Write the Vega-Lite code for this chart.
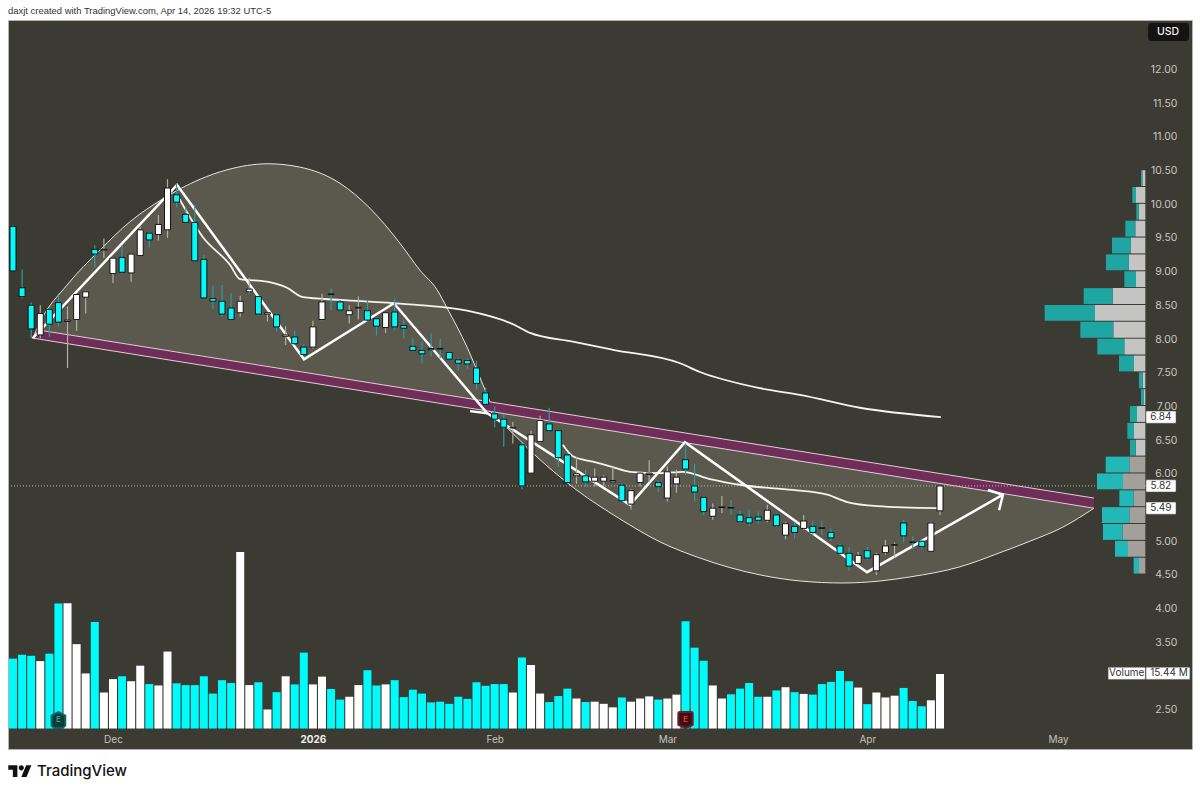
{
  "$schema": "https://vega.github.io/schema/vega-lite/v6.json",
  "description": "Daily candlesticks with volume, volume profile and a cup drawing",
  "width": 1184,
  "height": 729,
  "autosize": "none",
  "padding": {"left": 8, "top": 20, "right": 8, "bottom": 45},
  "background": "#ffffff",
  "title": {
    "text": "daxjt created with TradingView.com, Apr 14, 2026 19:32 UTC-5",
    "anchor": "start",
    "frame": "group",
    "offset": 4,
    "font": "Liberation Sans",
    "fontSize": 9.45,
    "fontWeight": "normal",
    "color": "#333333"
  },
  "config": {
    "view": {"fill": "#3b3a33", "stroke": "#b4b4ac", "strokeWidth": 1},
    "font": "Inter",
    "axis": {"title": null, "grid": false, "domain": false, "ticks": false}
  },
  "datasets": {
    "bars": [
      {"bar":0,"dir":"down","open":9.67,"high":9.69,"low":9.01,"close":9.01,"vol":19.8},
      {"bar":1,"dir":"down","open":8.76,"high":9.03,"low":8.60,"close":8.63,"vol":20.9},
      {"bar":2,"dir":"down","open":8.50,"high":8.54,"low":8.01,"close":8.15,"vol":20.6},
      {"bar":3,"dir":"up","open":8.06,"high":8.50,"low":8.01,"close":8.38,"vol":19.1},
      {"bar":4,"dir":"down","open":8.44,"high":8.47,"low":8.03,"close":8.22,"vol":21.2},
      {"bar":5,"dir":"down","open":8.54,"high":8.65,"low":8.18,"close":8.25,"vol":35.4},
      {"bar":6,"dir":"up","open":8.26,"high":8.48,"low":7.57,"close":8.28,"vol":35.5},
      {"bar":7,"dir":"up","open":8.29,"high":8.67,"low":8.12,"close":8.66,"vol":23.9},
      {"bar":8,"dir":"up","open":8.62,"high":8.72,"low":8.38,"close":8.70,"vol":15.6},
      {"bar":9,"dir":"down","open":9.33,"high":9.39,"low":9.07,"close":9.26,"vol":30.2},
      {"bar":10,"dir":"up","open":9.32,"high":9.49,"low":9.20,"close":9.33,"vol":10.2},
      {"bar":11,"dir":"up","open":8.97,"high":9.21,"low":8.83,"close":9.20,"vol":14.0},
      {"bar":12,"dir":"down","open":9.21,"high":9.39,"low":8.97,"close":8.99,"vol":14.8},
      {"bar":13,"dir":"up","open":8.98,"high":9.27,"low":8.85,"close":9.26,"vol":13.4},
      {"bar":14,"dir":"up","open":9.24,"high":9.66,"low":9.23,"close":9.62,"vol":17.8},
      {"bar":15,"dir":"down","open":9.57,"high":9.59,"low":9.36,"close":9.47,"vol":12.6},
      {"bar":16,"dir":"up","open":9.55,"high":9.84,"low":9.46,"close":9.70,"vol":12.2},
      {"bar":17,"dir":"up","open":9.62,"high":10.37,"low":9.50,"close":10.24,"vol":21.8},
      {"bar":18,"dir":"down","open":10.14,"high":10.31,"low":9.95,"close":10.03,"vol":12.8},
      {"bar":19,"dir":"down","open":9.85,"high":9.94,"low":9.72,"close":9.73,"vol":12.3},
      {"bar":20,"dir":"down","open":9.73,"high":9.99,"low":9.15,"close":9.16,"vol":12.3},
      {"bar":21,"dir":"down","open":9.18,"high":9.25,"low":8.60,"close":8.61,"vol":14.8},
      {"bar":22,"dir":"down","open":8.60,"high":8.79,"low":8.45,"close":8.56,"vol":9.9},
      {"bar":23,"dir":"down","open":8.56,"high":8.80,"low":8.33,"close":8.37,"vol":13.7},
      {"bar":24,"dir":"down","open":8.46,"high":8.68,"low":8.28,"close":8.29,"vol":12.9},
      {"bar":25,"dir":"up","open":8.39,"high":8.64,"low":8.33,"close":8.56,"vol":50.0},
      {"bar":26,"dir":"up","open":8.70,"high":8.91,"low":8.68,"close":8.74,"vol":12.3},
      {"bar":27,"dir":"down","open":8.63,"high":8.64,"low":8.35,"close":8.37,"vol":13.1},
      {"bar":28,"dir":"up","open":8.37,"high":8.42,"low":8.26,"close":8.39,"vol":5.4},
      {"bar":29,"dir":"down","open":8.36,"high":8.38,"low":8.11,"close":8.18,"vol":10.3},
      {"bar":30,"dir":"up","open":8.04,"high":8.19,"low":7.91,"close":8.06,"vol":14.8},
      {"bar":31,"dir":"down","open":8.03,"high":8.13,"low":7.92,"close":7.93,"vol":12.5},
      {"bar":32,"dir":"down","open":7.88,"high":7.92,"low":7.76,"close":7.77,"vol":21.5},
      {"bar":33,"dir":"up","open":7.88,"high":8.27,"low":7.86,"close":8.18,"vol":12.5},
      {"bar":34,"dir":"up","open":8.29,"high":8.67,"low":8.28,"close":8.55,"vol":14.7},
      {"bar":35,"dir":"down","open":8.67,"high":8.75,"low":8.43,"close":8.66,"vol":11.2},
      {"bar":36,"dir":"down","open":8.55,"high":8.58,"low":8.42,"close":8.43,"vol":8.2},
      {"bar":37,"dir":"up","open":8.36,"high":8.50,"low":8.23,"close":8.42,"vol":9.0},
      {"bar":38,"dir":"up","open":8.46,"high":8.63,"low":8.29,"close":8.47,"vol":12.3},
      {"bar":39,"dir":"down","open":8.42,"high":8.58,"low":8.26,"close":8.28,"vol":16.5},
      {"bar":40,"dir":"down","open":8.30,"high":8.31,"low":8.05,"close":8.19,"vol":12.2},
      {"bar":41,"dir":"up","open":8.17,"high":8.39,"low":8.09,"close":8.39,"vol":12.5},
      {"bar":42,"dir":"down","open":8.40,"high":8.60,"low":8.13,"close":8.18,"vol":13.7},
      {"bar":43,"dir":"down","open":8.20,"high":8.28,"low":8.01,"close":8.16,"vol":8.9},
      {"bar":44,"dir":"down","open":7.89,"high":8.01,"low":7.82,"close":7.83,"vol":11.0},
      {"bar":45,"dir":"down","open":7.83,"high":7.96,"low":7.64,"close":7.78,"vol":9.9},
      {"bar":46,"dir":"down","open":7.86,"high":8.08,"low":7.74,"close":7.84,"vol":7.4},
      {"bar":47,"dir":"down","open":7.86,"high":8.00,"low":7.71,"close":7.85,"vol":7.6},
      {"bar":48,"dir":"down","open":7.80,"high":7.81,"low":7.69,"close":7.70,"vol":7.0},
      {"bar":49,"dir":"down","open":7.69,"high":7.71,"low":7.53,"close":7.64,"vol":9.0},
      {"bar":50,"dir":"down","open":7.68,"high":7.71,"low":7.56,"close":7.63,"vol":8.4},
      {"bar":51,"dir":"down","open":7.57,"high":7.68,"low":7.25,"close":7.34,"vol":13.1},
      {"bar":52,"dir":"down","open":7.20,"high":7.28,"low":7.02,"close":7.03,"vol":12.1},
      {"bar":53,"dir":"down","open":6.89,"high":7.00,"low":6.69,"close":6.81,"vol":12.6},
      {"bar":54,"dir":"down","open":6.81,"high":6.89,"low":6.40,"close":6.69,"vol":12.6},
      {"bar":55,"dir":"up","open":6.68,"high":6.77,"low":6.45,"close":6.69,"vol":10.2},
      {"bar":56,"dir":"down","open":6.43,"high":6.45,"low":5.77,"close":5.82,"vol":20.1},
      {"bar":57,"dir":"up","open":6.01,"high":6.64,"low":6.00,"close":6.58,"vol":18.0},
      {"bar":58,"dir":"up","open":6.48,"high":6.86,"low":6.46,"close":6.79,"vol":9.9},
      {"bar":59,"dir":"down","open":6.74,"high":6.98,"low":6.63,"close":6.64,"vol":7.5},
      {"bar":60,"dir":"down","open":6.64,"high":6.65,"low":6.10,"close":6.24,"vol":9.2},
      {"bar":61,"dir":"down","open":6.28,"high":6.30,"low":5.86,"close":5.87,"vol":11.3},
      {"bar":62,"dir":"up","open":5.97,"high":6.25,"low":5.85,"close":6.00,"vol":8.5},
      {"bar":63,"dir":"down","open":5.97,"high":6.06,"low":5.81,"close":5.88,"vol":7.5},
      {"bar":64,"dir":"up","open":5.89,"high":6.08,"low":5.81,"close":5.95,"vol":7.6},
      {"bar":65,"dir":"up","open":5.89,"high":5.98,"low":5.81,"close":5.95,"vol":7.0},
      {"bar":66,"dir":"up","open":5.88,"high":6.10,"low":5.87,"close":5.90,"vol":6.0},
      {"bar":67,"dir":"down","open":5.83,"high":5.86,"low":5.59,"close":5.60,"vol":8.8},
      {"bar":68,"dir":"up","open":5.55,"high":5.77,"low":5.47,"close":5.75,"vol":7.6},
      {"bar":69,"dir":"up","open":5.87,"high":6.03,"low":5.81,"close":6.01,"vol":8.5},
      {"bar":70,"dir":"up","open":5.99,"high":6.20,"low":5.88,"close":6.01,"vol":9.1},
      {"bar":71,"dir":"down","open":5.87,"high":5.90,"low":5.73,"close":5.81,"vol":8.2},
      {"bar":72,"dir":"up","open":5.64,"high":6.11,"low":5.59,"close":6.03,"vol":8.5},
      {"bar":73,"dir":"up","open":5.85,"high":6.06,"low":5.72,"close":5.95,"vol":9.6},
      {"bar":74,"dir":"down","open":6.21,"high":6.45,"low":5.98,"close":6.07,"vol":30.4},
      {"bar":75,"dir":"down","open":5.82,"high":6.15,"low":5.59,"close":5.73,"vol":22.9},
      {"bar":76,"dir":"down","open":5.65,"high":5.66,"low":5.39,"close":5.44,"vol":19.2},
      {"bar":77,"dir":"up","open":5.37,"high":5.56,"low":5.32,"close":5.49,"vol":12.2},
      {"bar":78,"dir":"up","open":5.50,"high":5.67,"low":5.42,"close":5.51,"vol":8.5},
      {"bar":79,"dir":"down","open":5.50,"high":5.61,"low":5.39,"close":5.49,"vol":9.7},
      {"bar":80,"dir":"down","open":5.39,"high":5.45,"low":5.27,"close":5.29,"vol":11.3},
      {"bar":81,"dir":"down","open":5.35,"high":5.47,"low":5.23,"close":5.27,"vol":12.9},
      {"bar":82,"dir":"down","open":5.36,"high":5.44,"low":5.26,"close":5.31,"vol":9.0},
      {"bar":83,"dir":"up","open":5.31,"high":5.54,"low":5.28,"close":5.46,"vol":9.0},
      {"bar":84,"dir":"down","open":5.39,"high":5.41,"low":5.21,"close":5.23,"vol":10.8},
      {"bar":85,"dir":"up","open":5.09,"high":5.29,"low":5.03,"close":5.26,"vol":11.7},
      {"bar":86,"dir":"down","open":5.22,"high":5.29,"low":5.04,"close":5.13,"vol":10.3},
      {"bar":87,"dir":"up","open":5.19,"high":5.39,"low":5.17,"close":5.30,"vol":9.8},
      {"bar":88,"dir":"down","open":5.22,"high":5.30,"low":5.09,"close":5.13,"vol":9.6},
      {"bar":89,"dir":"down","open":5.20,"high":5.30,"low":5.09,"close":5.19,"vol":12.6},
      {"bar":90,"dir":"down","open":5.13,"high":5.19,"low":5.00,"close":5.05,"vol":13.2},
      {"bar":91,"dir":"down","open":4.93,"high":4.96,"low":4.80,"close":4.82,"vol":16.3},
      {"bar":92,"dir":"down","open":4.82,"high":4.91,"low":4.56,"close":4.63,"vol":13.4},
      {"bar":93,"dir":"up","open":4.67,"high":4.84,"low":4.64,"close":4.79,"vol":11.6},
      {"bar":94,"dir":"down","open":4.86,"high":4.91,"low":4.72,"close":4.75,"vol":6.9},
      {"bar":95,"dir":"up","open":4.56,"high":4.83,"low":4.50,"close":4.80,"vol":10.2},
      {"bar":96,"dir":"up","open":4.83,"high":5.02,"low":4.80,"close":4.93,"vol":8.8},
      {"bar":97,"dir":"up","open":4.94,"high":4.98,"low":4.76,"close":4.95,"vol":9.3},
      {"bar":98,"dir":"down","open":5.27,"high":5.32,"low":4.98,"close":5.08,"vol":11.5},
      {"bar":99,"dir":"down","open":4.99,"high":5.07,"low":4.88,"close":4.98,"vol":7.8},
      {"bar":100,"dir":"down","open":5.00,"high":5.01,"low":4.89,"close":4.92,"vol":6.3},
      {"bar":101,"dir":"up","open":4.85,"high":5.29,"low":4.84,"close":5.27,"vol":8.0},
      {"bar":102,"dir":"up","open":5.45,"high":5.83,"low":5.39,"close":5.82,"vol":15.44}
    ],
    "cupTop": [
      {"bar":2.2,"p":8.015,"edge":8.015},
      {"bar":2.97,"p":8.25,"edge":8.13},
      {"bar":5.94,"p":8.80,"edge":8.07},
      {"bar":9.57,"p":9.32,"edge":7.99},
      {"bar":12.87,"p":9.74,"edge":7.92},
      {"bar":16.5,"p":10.08,"edge":7.84},
      {"bar":20.58,"p":10.37,"edge":7.76},
      {"bar":23.55,"p":10.51,"edge":7.69},
      {"bar":28.06,"p":10.60,"edge":7.60},
      {"bar":31.58,"p":10.55,"edge":7.52},
      {"bar":35.98,"p":10.31,"edge":7.42},
      {"bar":39.28,"p":9.94,"edge":7.35},
      {"bar":42.58,"p":9.42,"edge":7.28},
      {"bar":44.78,"p":9.02,"edge":7.23},
      {"bar":46.66,"p":8.73,"edge":7.19},
      {"bar":47.76,"p":8.46,"edge":7.17},
      {"bar":49.96,"p":7.88,"edge":7.12},
      {"bar":51.71,"p":7.32,"edge":7.09},
      {"bar":52.49,"p":7.07,"edge":7.07}
    ],
    "cupLow": [
      {"bar":52.49,"p":6.93,"edge":6.93},
      {"bar":54.69,"p":6.64,"edge":6.88},
      {"bar":57.66,"p":6.25,"edge":6.82},
      {"bar":61.62,"p":5.80,"edge":6.73},
      {"bar":66.79,"p":5.33,"edge":6.62},
      {"bar":71.19,"p":4.99,"edge":6.52},
      {"bar":75.59,"p":4.75,"edge":6.43},
      {"bar":82.2,"p":4.50,"edge":6.29},
      {"bar":86.6,"p":4.41,"edge":6.19},
      {"bar":91.33,"p":4.38,"edge":6.09},
      {"bar":95.4,"p":4.41,"edge":6.00},
      {"bar":98.7,"p":4.47,"edge":5.93},
      {"bar":104.2,"p":4.62,"edge":5.81},
      {"bar":108.6,"p":4.83,"edge":5.72},
      {"bar":111.9,"p":5.00,"edge":5.65},
      {"bar":115.54,"p":5.21,"edge":5.57},
      {"bar":118.95,"p":5.49,"edge":5.49}
    ],
    "band": [
      {"bar":2.09,"p":8.015,"edge":8.015},
      {"bar":2.97,"p":8.13,"edge":7.996},
      {"bar":118.95,"p":5.64,"edge":5.49}
    ],
    "averages": [
      {"series":"slow","bar":18.05,"p":10.14},
      {"series":"slow","bar":20.9,"p":9.51},
      {"series":"slow","bar":23.88,"p":9.10},
      {"series":"slow","bar":24.98,"p":8.89},
      {"series":"slow","bar":27.95,"p":8.85},
      {"series":"slow","bar":30.15,"p":8.76},
      {"series":"slow","bar":31.9,"p":8.62},
      {"series":"slow","bar":35.98,"p":8.58},
      {"series":"slow","bar":42.9,"p":8.52},
      {"series":"slow","bar":49.96,"p":8.42},
      {"series":"slow","bar":55.0,"p":8.22},
      {"series":"slow","bar":56.9,"p":8.09},
      {"series":"slow","bar":61.6,"p":7.96},
      {"series":"slow","bar":66.0,"p":7.84},
      {"series":"slow","bar":73.4,"p":7.64},
      {"series":"slow","bar":75.6,"p":7.51},
      {"series":"slow","bar":82.2,"p":7.27},
      {"series":"slow","bar":86.6,"p":7.17},
      {"series":"slow","bar":93.2,"p":6.98},
      {"series":"slow","bar":102.1,"p":6.84},
      {"series":"fast","bar":60.5,"p":6.43},
      {"series":"fast","bar":61.6,"p":6.26},
      {"series":"fast","bar":63.8,"p":6.18},
      {"series":"fast","bar":66.0,"p":6.10},
      {"series":"fast","bar":67.9,"p":6.03},
      {"series":"fast","bar":71.2,"p":6.01},
      {"series":"fast","bar":73.7,"p":6.03},
      {"series":"fast","bar":76.7,"p":5.92},
      {"series":"fast","bar":80.3,"p":5.83},
      {"series":"fast","bar":85.8,"p":5.76},
      {"series":"fast","bar":89.6,"p":5.69},
      {"series":"fast","bar":91.8,"p":5.58},
      {"series":"fast","bar":95.1,"p":5.52},
      {"series":"fast","bar":101.7,"p":5.49}
    ],
    "zigzag": [
      {"seg":"main","n":1,"bar":2.2,"p":8.015},
      {"seg":"main","n":2,"bar":18.05,"p":10.285},
      {"seg":"main","n":3,"bar":32.02,"p":7.70},
      {"seg":"main","n":4,"bar":41.92,"p":8.53},
      {"seg":"main","n":5,"bar":52.16,"p":6.90},
      {"seg":"main","n":6,"bar":67.89,"p":5.54},
      {"seg":"main","n":7,"bar":73.94,"p":6.47},
      {"seg":"main","n":8,"bar":93.97,"p":4.54},
      {"seg":"main","n":9,"bar":108.93,"p":5.69},
      {"seg":"head","n":1,"bar":107.28,"p":5.76},
      {"seg":"head","n":2,"bar":108.93,"p":5.69},
      {"seg":"head","n":3,"bar":108.5,"p":5.46},
      {"seg":"kink","n":1,"bar":50.29,"p":6.93},
      {"seg":"kink","n":2,"bar":52.16,"p":6.90}
    ],
    "profile": [
      {"lo":4.52,"hi":4.755,"part":"downLow","from":0,"to":19},{"lo":4.52,"hi":4.755,"part":"upLow","from":19,"to":35},
      {"lo":4.77,"hi":5.005,"part":"downLow","from":0,"to":52},{"lo":4.77,"hi":5.005,"part":"upLow","from":52,"to":91},
      {"lo":5.02,"hi":5.255,"part":"downLow","from":0,"to":68},{"lo":5.02,"hi":5.255,"part":"upLow","from":68,"to":127},
      {"lo":5.27,"hi":5.505,"part":"downLow","from":0,"to":48},{"lo":5.27,"hi":5.505,"part":"upLow","from":48,"to":130},
      {"lo":5.52,"hi":5.755,"part":"downLow","from":0,"to":35},{"lo":5.52,"hi":5.755,"part":"upLow","from":35,"to":78},
      {"lo":5.77,"hi":6.005,"part":"downLow","from":0,"to":67},{"lo":5.77,"hi":6.005,"part":"upLow","from":67,"to":145},
      {"lo":6.02,"hi":6.255,"part":"downLow","from":0,"to":48},{"lo":6.02,"hi":6.255,"part":"upLow","from":48,"to":119},
      {"lo":6.27,"hi":6.505,"part":"downHigh","from":0,"to":29},{"lo":6.27,"hi":6.505,"part":"upHigh","from":29,"to":46},
      {"lo":6.52,"hi":6.755,"part":"downHigh","from":0,"to":34},{"lo":6.52,"hi":6.755,"part":"upHigh","from":34,"to":54},
      {"lo":6.77,"hi":7.005,"part":"downHigh","from":0,"to":25},{"lo":6.77,"hi":7.005,"part":"upHigh","from":25,"to":46},
      {"lo":7.02,"hi":7.255,"part":"downHigh","from":0,"to":4},{"lo":7.02,"hi":7.255,"part":"upHigh","from":4,"to":13},
      {"lo":7.27,"hi":7.505,"part":"downHigh","from":0,"to":8},{"lo":7.27,"hi":7.505,"part":"upHigh","from":8,"to":19},
      {"lo":7.52,"hi":7.755,"part":"downHigh","from":0,"to":34},{"lo":7.52,"hi":7.755,"part":"upHigh","from":34,"to":79},
      {"lo":7.77,"hi":8.005,"part":"downHigh","from":0,"to":63},{"lo":7.77,"hi":8.005,"part":"upHigh","from":63,"to":144},
      {"lo":8.02,"hi":8.255,"part":"downHigh","from":0,"to":96},{"lo":8.02,"hi":8.255,"part":"upHigh","from":96,"to":195},
      {"lo":8.27,"hi":8.505,"part":"downHigh","from":0,"to":151},{"lo":8.27,"hi":8.505,"part":"upHigh","from":151,"to":302},
      {"lo":8.52,"hi":8.755,"part":"downHigh","from":0,"to":98},{"lo":8.52,"hi":8.755,"part":"upHigh","from":98,"to":185},
      {"lo":8.77,"hi":9.005,"part":"downHigh","from":0,"to":28},{"lo":8.77,"hi":9.005,"part":"upHigh","from":28,"to":63},
      {"lo":9.02,"hi":9.255,"part":"downHigh","from":0,"to":50},{"lo":9.02,"hi":9.255,"part":"upHigh","from":50,"to":118},
      {"lo":9.27,"hi":9.505,"part":"downHigh","from":0,"to":44},{"lo":9.27,"hi":9.505,"part":"upHigh","from":44,"to":100},
      {"lo":9.52,"hi":9.755,"part":"downHigh","from":0,"to":30},{"lo":9.52,"hi":9.755,"part":"upHigh","from":30,"to":60},
      {"lo":9.77,"hi":10.005,"part":"downHigh","from":0,"to":20},{"lo":9.77,"hi":10.005,"part":"upHigh","from":20,"to":27},
      {"lo":10.02,"hi":10.255,"part":"downHigh","from":0,"to":28},{"lo":10.02,"hi":10.255,"part":"upHigh","from":28,"to":39},
      {"lo":10.27,"hi":10.505,"part":"downHigh","from":0,"to":9},{"lo":10.27,"hi":10.505,"part":"upHigh","from":9,"to":13}
    ],
    "tags": [
      {"label":"6.84","p":6.84,"lo":6.75,"hi":6.93,"from":124.67,"to":127.97,"at":126.3},
      {"label":"5.82","p":5.82,"lo":5.73,"hi":5.91,"from":124.67,"to":127.97,"at":126.3},
      {"label":"5.49","p":5.49,"lo":5.40,"hi":5.58,"from":124.67,"to":127.97,"at":126.3},
      {"label":"Volume","p":3.04,"lo":2.95,"hi":3.13,"from":120.5,"to":124.6,"at":122.55},
      {"label":"15.44 M","p":3.04,"lo":2.95,"hi":3.13,"from":124.67,"to":129.5,"at":127.2}
    ]
  },
  "resolve": {"scale": {"x": "independent", "y": "independent"}},
  "layer": [
    {
      "data": {"name": "bars"},
      "encoding": {
        "x": {"field": "bar", "type": "quantitative", "scale": {"domain": [-0.55, 129.73], "nice": false, "zero": false, "padding": 0}, "axis": null},
        "y": {"field": "vol", "type": "quantitative", "scale": {"domain": [-5.8, 200.7], "nice": false, "zero": false}, "axis": null}
      },
      "layer": [
        {
          "mark": {"type": "bar", "size": 8},
          "encoding": {
            "fill": {"field": "dir", "type": "nominal", "scale": {"domain": ["up", "down"], "range": ["#ffffff", "#00fbfb"]}, "legend": null}
          }
        },
        {
          "data": {"values": [{"bar": 5, "vol": 2.4, "label": "E"}]},
          "mark": {"type": "point", "shape": "M0 -1L0.85 -0.55L0.85 0.7L0.5 1L-0.5 1L-0.85 0.7L-0.85 -0.55Z", "size": 256, "filled": true, "fill": "#0d3c3c", "stroke": "#0c6464", "opacity": 1}
        },
        {
          "data": {"values": [{"bar": 5, "vol": 2.4, "label": "E"}]},
          "mark": {"type": "text", "fontSize": 8, "color": "#2fb8b0"},
          "encoding": {"text": {"field": "label"}}
        },
        {
          "data": {"values": [{"bar": 74, "vol": 2.4, "label": "E"}]},
          "mark": {"type": "point", "shape": "M-0.9 -0.85Q-0.9 -1 -0.7 -1L0.7 -1Q0.9 -1 0.9 -0.85L0.9 0.6L0 1L-0.9 0.6Z", "size": 256, "filled": true, "fill": "#3a1216", "stroke": "#6e2026", "opacity": 1}
        },
        {
          "data": {"values": [{"bar": 74, "vol": 2.4, "label": "E"}]},
          "mark": {"type": "text", "fontSize": 8, "fontWeight": "bold", "color": "#d8323c"},
          "encoding": {"text": {"field": "label"}}
        }
      ]
    },
    {
      "encoding": {
        "x": {
          "field": "bar",
          "type": "quantitative",
          "scale": {"domain": [-0.55, 129.73], "nice": false, "zero": false, "padding": 0},
          "axis": {
            "values": [11, 33, 53, 72, 94, 115],
            "labelExpr": "{11: 'Dec', 33: '2026', 53: 'Feb', 72: 'Mar', 94: 'Apr', 115: 'May'}[datum.value]",
            "labelPadding": -15,
            "labelFontSize": 10,
            "labelColor": {"condition": {"test": "datum.value == 33", "value": "#f0f0ea"}, "value": "#c4c4bc"},
            "labelFontWeight": {"condition": {"test": "datum.value == 33", "value": "bold"}, "value": "normal"},
            "labelFlush": false,
            "labelOverlap": false,
            "zindex": 1
          }
        },
        "y": {
          "field": "p",
          "type": "quantitative",
          "scale": {"domain": [1.917, 12.733], "nice": false, "zero": false},
          "axis": {
            "orient": "right",
            "values": [12, 11.5, 11, 10.5, 10, 9.5, 9, 8.5, 8, 7.5, 7, 6.5, 6, 5, 4.5, 4, 3.5, 2.5],
            "format": ".2f",
            "labelAlign": "right",
            "labelBaseline": "middle",
            "labelPadding": -15,
            "labelFontSize": 10.5,
            "labelColor": "#c8c8c0",
            "labelFlush": false,
            "labelOverlap": false,
            "zindex": 1
          }
        }
      },
      "layer": [
        {
          "data": {"name": "cupTop"},
          "mark": {"type": "area", "color": "#5b594d", "opacity": 1, "interpolate": "monotone"},
          "encoding": {"y2": {"field": "edge"}}
        },
        {
          "data": {"name": "cupTop"},
          "mark": {"type": "line", "color": "#e6e6dc", "strokeWidth": 1, "interpolate": "monotone"}
        },
        {
          "data": {"name": "cupLow"},
          "mark": {"type": "area", "color": "#5b594d", "opacity": 1, "interpolate": "monotone"},
          "encoding": {"y2": {"field": "edge"}}
        },
        {
          "data": {"name": "cupLow"},
          "mark": {"type": "line", "color": "#e6e6dc", "strokeWidth": 1, "interpolate": "monotone"}
        },
        {
          "data": {"name": "band"},
          "mark": {"type": "area", "color": "#6e2e58", "opacity": 1},
          "encoding": {"y2": {"field": "edge"}}
        },
        {
          "data": {"name": "band"},
          "mark": {"type": "line", "color": "#e6ccd8", "strokeWidth": 1}
        },
        {
          "data": {"name": "band"},
          "mark": {"type": "line", "color": "#e6ccd8", "strokeWidth": 1},
          "encoding": {
            "y": {"field": "edge", "type": "quantitative", "scale": {"domain": [1.917, 12.733], "nice": false, "zero": false}}
          }
        },
        {
          "data": {"values": [{"bar": -0.55, "end": 124.67, "p": 5.82}]},
          "mark": {"type": "rule", "color": "#b8b8b0", "strokeDash": [1, 2], "strokeWidth": 1},
          "encoding": {"x2": {"field": "end"}}
        },
        {
          "data": {"name": "averages"},
          "mark": {"type": "line", "color": "#f4f4ec", "strokeWidth": 1.8, "interpolate": "monotone"},
          "encoding": {"detail": {"field": "series"}}
        },
        {
          "data": {"name": "zigzag"},
          "mark": {"type": "line", "color": "#ffffff", "strokeWidth": 2.5},
          "encoding": {
            "detail": {"field": "seg"},
            "order": {"field": "n", "type": "quantitative"}
          }
        },
        {
          "data": {"name": "bars"},
          "mark": {"type": "rule", "strokeWidth": 1.2},
          "encoding": {
            "y": {"field": "low", "type": "quantitative", "scale": {"domain": [1.917, 12.733], "nice": false, "zero": false}},
            "y2": {"field": "high"},
            "stroke": {"field": "dir", "type": "nominal", "scale": {"domain": ["up", "down"], "range": ["#b0b0a8", "#2f9c9c"]}, "legend": null}
          }
        },
        {
          "data": {"name": "bars"},
          "mark": {"type": "bar", "size": 6, "stroke": "#141414", "strokeWidth": 1},
          "encoding": {
            "y": {"field": "open", "type": "quantitative", "scale": {"domain": [1.917, 12.733], "nice": false, "zero": false}},
            "y2": {"field": "close"},
            "fill": {"field": "dir", "type": "nominal", "scale": {"domain": ["up", "down"], "range": ["#ffffff", "#00fbfb"]}, "legend": null}
          }
        },
        {
          "data": {"name": "tags"},
          "mark": {"type": "rect", "color": "#ffffff", "stroke": "#55554d", "strokeWidth": 0.5, "cornerRadius": 1},
          "encoding": {
            "x": {"field": "from", "type": "quantitative", "scale": {"domain": [-0.55, 129.73], "nice": false, "zero": false, "padding": 0}},
            "x2": {"field": "to"},
            "y": {"field": "lo", "type": "quantitative", "scale": {"domain": [1.917, 12.733], "nice": false, "zero": false}},
            "y2": {"field": "hi"}
          }
        },
        {
          "data": {"name": "tags"},
          "mark": {"type": "text", "fontSize": 10, "color": "#333333"},
          "encoding": {
            "x": {"field": "at", "type": "quantitative", "scale": {"domain": [-0.55, 129.73], "nice": false, "zero": false, "padding": 0}},
            "text": {"field": "label"}
          }
        },
        {
          "data": {"values": [{"label": "USD", "p": 12.555, "lo": 12.42, "hi": 12.69, "from": 124.9, "to": 129.4, "at": 127.1}]},
          "mark": {"type": "rect", "color": "#131313", "cornerRadius": 3},
          "encoding": {
            "x": {"field": "from", "type": "quantitative", "scale": {"domain": [-0.55, 129.73], "nice": false, "zero": false, "padding": 0}},
            "x2": {"field": "to"},
            "y": {"field": "lo", "type": "quantitative", "scale": {"domain": [1.917, 12.733], "nice": false, "zero": false}},
            "y2": {"field": "hi"}
          }
        },
        {
          "data": {"values": [{"label": "USD", "p": 12.555, "lo": 12.42, "hi": 12.69, "from": 124.9, "to": 129.4, "at": 127.1}]},
          "mark": {"type": "text", "fontSize": 10.5, "fontWeight": 500, "color": "#f0f0f0"},
          "encoding": {
            "x": {"field": "at", "type": "quantitative", "scale": {"domain": [-0.55, 129.73], "nice": false, "zero": false, "padding": 0}},
            "text": {"field": "label"}
          }
        },
        {
          "data": {"values": [{"bar": 0.77, "p": 1.59}]},
          "mark": {
            "type": "point",
            "shape": "M-0.222 0.5H-0.611V-0.111H-1V-0.5H-0.222ZM0.556 0.5H0.111L0.528 -0.5H0.972ZM-0.111 -0.278a0.222 0.222 0 1 0 0.444 0a0.222 0.222 0 1 0 -0.444 0Z",
            "size": 550,
            "filled": true,
            "fill": "#111111",
            "opacity": 1,
            "clip": false
          }
        },
        {
          "data": {"values": [{"bar": 2.64, "p": 1.59, "label": "TradingView"}]},
          "mark": {"type": "text", "align": "left", "fontSize": 15, "fontWeight": 500, "color": "#111111", "clip": false},
          "encoding": {"text": {"field": "label"}}
        }
      ]
    },
    {
      "data": {"name": "profile"},
      "mark": {"type": "rect", "opacity": 1},
      "encoding": {
        "x": {"field": "from", "type": "quantitative", "scale": {"domain": [3412, -140], "nice": false, "zero": false, "padding": 0}, "axis": null},
        "x2": {"field": "to"},
        "y": {"field": "lo", "type": "quantitative", "scale": {"domain": [1.917, 12.733], "nice": false, "zero": false}, "axis": null},
        "y2": {"field": "hi"},
        "color": {
          "field": "part",
          "type": "nominal",
          "scale": {"domain": ["downLow", "upLow", "downHigh", "upHigh"], "range": ["#a3a09c", "#22b8b8", "#c4c4c2", "#1fa6a3"]},
          "legend": null
        }
      }
    }
  ]
}
